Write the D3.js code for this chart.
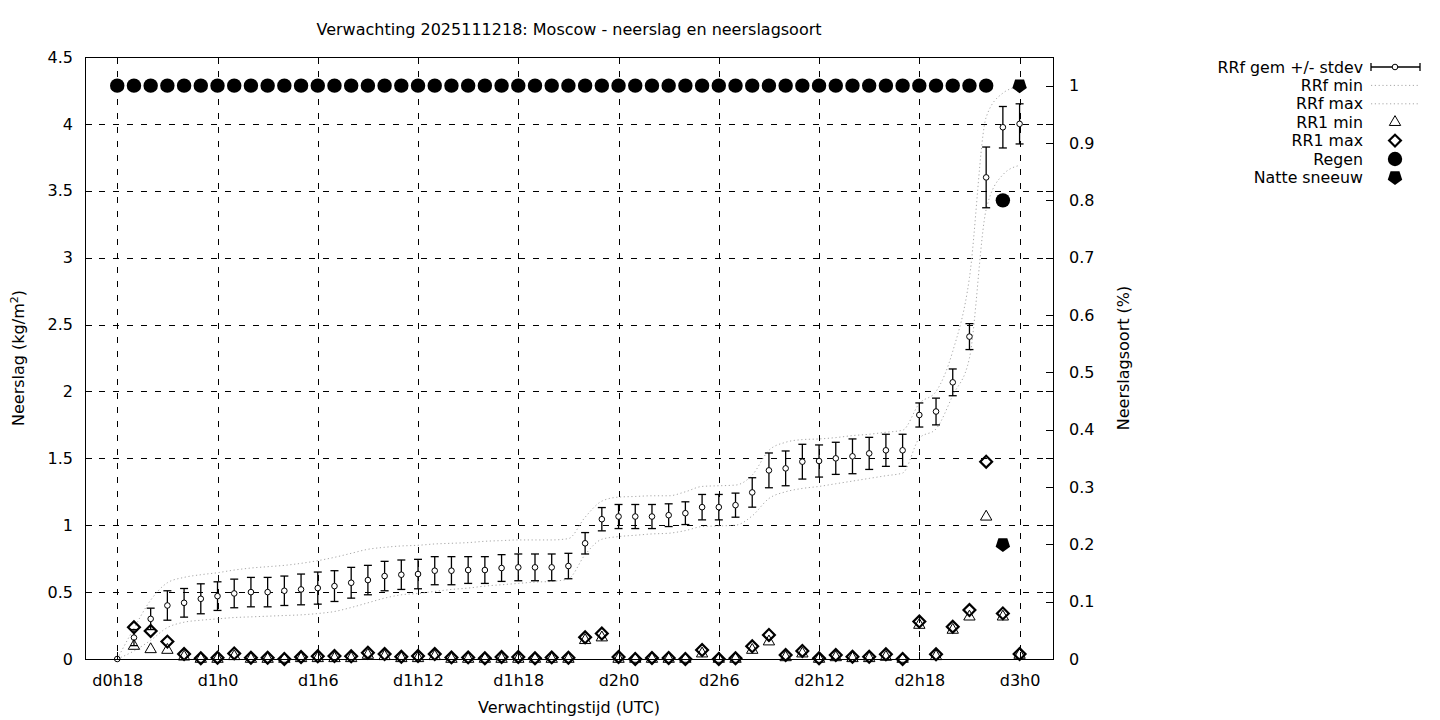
<!DOCTYPE html>
<html><head><meta charset="utf-8">
<script src="https://cdn.jsdelivr.net/npm/d3@7"></script>
<style>
body{margin:0;background:#fff}
svg{display:block}
text{font-family:"DejaVu Sans",sans-serif;font-size:16px;fill:#000}
</style>
</head><body>
<svg id="c" width="1440" height="720"></svg>
<script>
const hours = [18,19,20,21,22,23,24,25,26,27,28,29,30,31,32,33,34,35,36,37,38,39,40,41,42,43,44,45,46,47,48,49,50,51,52,53,54,55,56,57,58,59,60,61,62,63,64,65,66,67,68,69,70,71,72];
const rrfMean = [0.00,0.16,0.30,0.40,0.42,0.45,0.47,0.49,0.50,0.50,
  0.51,0.52,0.53,0.545,0.57,0.59,0.62,0.63,0.635,0.66,
  0.66,0.665,0.665,0.68,0.685,0.685,0.685,0.695,0.865,1.045,
  1.065,1.065,1.065,1.075,1.09,1.135,1.135,1.15,1.245,1.41,
  1.425,1.475,1.48,1.50,1.515,1.537,1.56,1.56,1.824,1.85,
  2.068,2.41,3.60,3.975,4.00];
const rrfStdev = [0,0.06,0.08,0.11,0.107,0.112,0.107,0.107,0.11,0.11,
  0.11,0.115,0.12,0.115,0.115,0.11,0.11,0.11,0.11,0.105,
  0.105,0.10,0.10,0.10,0.10,0.10,0.10,0.095,0.08,0.087,
  0.09,0.09,0.09,0.085,0.085,0.095,0.095,0.09,0.11,0.13,
  0.13,0.13,0.12,0.12,0.13,0.12,0.12,0.12,0.09,0.10,
  0.10,0.097,0.227,0.155,0.15];
const rrfMax = [0,0.23,0.44,0.57,0.61,0.63,0.645,0.665,0.68,0.69,
  0.70,0.715,0.735,0.76,0.79,0.82,0.835,0.845,0.85,0.86,
  0.865,0.87,0.88,0.885,0.89,0.89,0.89,0.90,1.06,1.18,
  1.21,1.215,1.22,1.22,1.25,1.29,1.295,1.30,1.375,1.56,
  1.62,1.64,1.645,1.655,1.67,1.68,1.695,1.71,1.91,2.0,
  2.3,2.85,4.05,4.23,4.28];
const rrfMin = [0,0.06,0.14,0.235,0.275,0.29,0.30,0.31,0.315,0.32,
  0.325,0.33,0.34,0.355,0.385,0.42,0.455,0.48,0.49,0.505,
  0.52,0.53,0.545,0.555,0.565,0.575,0.58,0.60,0.78,0.895,
  0.915,0.925,0.935,0.94,0.96,0.99,0.995,1.00,1.07,1.20,
  1.25,1.275,1.29,1.31,1.33,1.35,1.37,1.39,1.65,1.72,
  1.97,2.25,3.36,3.62,3.69];
const rr1Max = [null,0.237,0.21,0.13,0.037,0.005,0.01,0.042,0.01,0.01,
  0.0,0.015,0.02,0.022,0.02,0.047,0.037,0.017,0.022,0.037,
  0.012,0.012,0.005,0.015,0.015,0.005,0.012,0.01,0.162,0.19,
  0.015,0.0,0.008,0.008,0.0,0.067,0.0,0.005,0.095,0.18,
  0.03,0.06,0.005,0.03,0.017,0.017,0.035,0.0,0.28,0.035,
  0.241,0.366,1.475,0.341,0.037];
const rr1Min = [null,0.097,0.072,0.067,0.017,0.0,0.0,0.02,0.0,0.0,
  0.0,0.005,0.005,0.005,0.005,0.03,0.02,0.005,0.005,0.02,
  0.0,0.0,0.0,0.0,0.0,0.0,0.0,0.0,0.14,0.16,
  0.0,0.0,0.0,0.0,0.0,0.04,0.0,0.0,0.067,0.13,
  0.012,0.04,0.0,0.012,0.005,0.005,0.015,0.0,0.254,0.02,
  0.217,0.316,1.063,0.316,0.03];
const regen = [1,1,1,1,1,1,1,1,1,1,
  1,1,1,1,1,1,1,1,1,1,
  1,1,1,1,1,1,1,1,1,1,
  1,1,1,1,1,1,1,1,1,1,
  1,1,1,1,1,1,1,1,1,1,
  1,1,1,0.8,null];
const natteSneeuw = [null,null,null,null,null,null,null,null,null,null,
  null,null,null,null,null,null,null,null,null,null,
  null,null,null,null,null,null,null,null,null,null,
  null,null,null,null,null,null,null,null,null,null,
  null,null,null,null,null,null,null,null,null,null,
  null,null,null,0.2,1.0];
const xTickValues = [18,24,30,36,42,48,54,60,66,72];
const xTickLabels = ["d0h18","d1h0","d1h6","d1h12","d1h18","d2h0","d2h6","d2h12","d2h18","d3h0"];
const yTicks = [0,0.5,1,1.5,2,2.5,3,3.5,4,4.5];
const y2Ticks = [0,0.1,0.2,0.3,0.4,0.5,0.6,0.7,0.8,0.9,1];
const legendLabels = ["RRf gem +/- stdev","RRf min","RRf max","RR1 min","RR1 max","Regen","Natte sneeuw"];

const L=85,R=1053,T=57,B=659;
const svg = d3.select("#c");
const x = d3.scaleLinear().domain([16.07,74]).range([L,R]);
const y = d3.scaleLinear().domain([0,4.5]).range([B,T]);
const y2 = d3.scaleLinear().domain([0,1.05]).range([B,T]);

// grid
const grid = svg.append("g").attr("stroke","#000").attr("stroke-width",1).attr("stroke-dasharray","6,8").attr("shape-rendering","crispEdges");
grid.selectAll("line.v").data(xTickValues).join("line").attr("class","v")
  .attr("x1",d=>Math.round(x(d))+0.5).attr("x2",d=>Math.round(x(d))+0.5).attr("y1",T).attr("y2",B);
grid.selectAll("line.h").data(yTicks.filter(d=>d>0&&d<4.5)).join("line").attr("class","h")
  .attr("x1",L).attr("x2",R).attr("y1",d=>Math.round(y(d))+0.5).attr("y2",d=>Math.round(y(d))+0.5);

const pts = hours.map((h,i)=>({h,i}));

// dotted min/max lines
const lineOf = arr => d3.line().defined(d=>arr[d.i]!=null).x(d=>x(d.h)).y(d=>y(arr[d.i])).curve(d3.curveMonotoneX);
[rrfMin, rrfMax].forEach(arr=>{
  svg.append("path").datum(pts).attr("d",lineOf(arr)).attr("fill","none")
    .attr("stroke","#a8a8a8").attr("stroke-width",1).attr("stroke-dasharray","1.2,2.6");
});

// error bars
const eb = svg.append("g").attr("stroke","#000").attr("stroke-width",1.3);
pts.filter(d=>rrfStdev[d.i]>0).forEach(d=>{
  const cx=x(d.h), y1=y(rrfMean[d.i]-rrfStdev[d.i]), y2v=y(rrfMean[d.i]+rrfStdev[d.i]);
  eb.append("line").attr("x1",cx).attr("x2",cx).attr("y1",y1).attr("y2",y2v);
  eb.append("line").attr("x1",cx-4).attr("x2",cx+4).attr("y1",y1).attr("y2",y1);
  eb.append("line").attr("x1",cx-4).attr("x2",cx+4).attr("y1",y2v).attr("y2",y2v);
});
svg.append("g").selectAll("circle").data(pts).join("circle")
  .attr("cx",d=>x(d.h)).attr("cy",d=>y(rrfMean[d.i])).attr("r",2.8)
  .attr("fill","#fff").attr("stroke","#000").attr("stroke-width",1);

// symbols
const triPath = d3.symbol(d3.symbolTriangle, 56)();
const diaPath = d3.symbol(d3.symbolSquare, 70)();
const pentPath = (r=>{const p=[];for(let k=0;k<5;k++){const a=Math.PI/2+k*2*Math.PI/5;p.push([r*Math.cos(a),r*Math.sin(a)]);}return "M"+p.map(q=>q.join(",")).join("L")+"Z";})(7.6);

svg.append("g").selectAll("path").data(pts.filter(d=>rr1Min[d.i]!=null)).join("path")
  .attr("d",triPath).attr("transform",d=>`translate(${x(d.h)},${y(rr1Min[d.i])})`)
  .attr("fill","none").attr("stroke","#000").attr("stroke-width",1);
svg.append("g").selectAll("path").data(pts.filter(d=>rr1Max[d.i]!=null)).join("path")
  .attr("d",diaPath).attr("transform",d=>`translate(${x(d.h)},${y(rr1Max[d.i])}) rotate(45)`)
  .attr("fill","none").attr("stroke","#000").attr("stroke-width",2.2);
svg.append("g").selectAll("circle").data(pts.filter(d=>regen[d.i]!=null)).join("circle")
  .attr("cx",d=>x(d.h)).attr("cy",d=>y2(regen[d.i])).attr("r",7.2).attr("fill","#000");
svg.append("g").selectAll("path").data(pts.filter(d=>natteSneeuw[d.i]!=null)).join("path")
  .attr("d",pentPath).attr("transform",d=>`translate(${x(d.h)},${y2(natteSneeuw[d.i])})`).attr("fill","#000");

// border
svg.append("rect").attr("x",L+0.5).attr("y",T+0.5).attr("width",R-L).attr("height",B-T)
  .attr("fill","none").attr("stroke","#000").attr("stroke-width",1).attr("shape-rendering","crispEdges");

// axes
function style(g){ g.select(".domain").remove(); g.selectAll("text").attr("font-size",null).attr("font-family",null);
  g.attr("font-size",null).attr("font-family",null); g.selectAll("line").attr("shape-rendering","crispEdges"); }
svg.append("g").attr("transform",`translate(0,${B})`)
  .call(d3.axisBottom(x).tickValues(xTickValues).tickFormat((d,i)=>xTickLabels[i]).tickSizeInner(-7).tickSizeOuter(0).tickPadding(16)).call(style);
svg.append("g").attr("transform",`translate(0,${T})`)
  .call(d3.axisTop(x).tickValues(xTickValues).tickFormat("").tickSizeInner(-7).tickSizeOuter(0)).call(style);
svg.append("g").attr("transform",`translate(${L},0)`)
  .call(d3.axisLeft(y).tickValues(yTicks).tickFormat(d=>String(d)).tickSizeInner(-7).tickSizeOuter(0).tickPadding(12)).call(style);
svg.append("g").attr("transform",`translate(${R},0)`)
  .call(d3.axisRight(y).tickValues(yTicks).tickFormat("").tickSizeInner(-7).tickSizeOuter(0)).call(style);
svg.append("g").attr("transform",`translate(${R},0)`)
  .call(d3.axisRight(y2).tickValues(y2Ticks).tickFormat(d=>String(d)).tickSizeInner(-7).tickSizeOuter(0).tickPadding(16)).call(style);

// titles
svg.append("text").attr("x",(L+R)/2).attr("y",35).attr("text-anchor","middle")
  .text("Verwachting 2025111218: Moscow - neerslag en neerslagsoort");
svg.append("text").attr("x",(L+R)/2).attr("y",713).attr("text-anchor","middle").text("Verwachtingstijd (UTC)");
const yl = svg.append("text").attr("transform","translate(24,358) rotate(-90)").attr("text-anchor","middle");
yl.append("tspan").text("Neerslag (kg/m");
yl.append("tspan").attr("font-size","11px").attr("dy","-6").text("2");
yl.append("tspan").attr("dy","6").text(")");
svg.append("text").attr("transform","translate(1129,358) rotate(-90)").attr("text-anchor","middle").text("Neerslagsoort (%)");

// legend
const lg = svg.append("g");
const lx0=1371, lx1=1420, lxm=1395, ltx=1363;
legendLabels.forEach((t,i)=>{
  const ly = 67 + i*18.4;
  lg.append("text").attr("x",ltx).attr("y",ly).attr("dy","0.36em").attr("text-anchor","end").style("font-size","15.8px").text(t);
  if(i===0){
    lg.append("line").attr("x1",lx0).attr("x2",lx1).attr("y1",ly).attr("y2",ly).attr("stroke","#000").attr("stroke-width",1.3);
    [lx0,lx1].forEach(xx=>lg.append("line").attr("x1",xx).attr("x2",xx).attr("y1",ly-4).attr("y2",ly+4).attr("stroke","#000").attr("stroke-width",1.3));
    lg.append("circle").attr("cx",lxm).attr("cy",ly).attr("r",2.8).attr("fill","#fff").attr("stroke","#000");
  } else if(i===1||i===2){
    lg.append("line").attr("x1",lx0).attr("x2",lx1).attr("y1",ly).attr("y2",ly).attr("stroke","#a8a8a8").attr("stroke-dasharray","1.2,2.6");
  } else if(i===3){
    lg.append("path").attr("d",triPath).attr("transform",`translate(${lxm},${ly})`).attr("fill","none").attr("stroke","#000");
  } else if(i===4){
    lg.append("path").attr("d",diaPath).attr("transform",`translate(${lxm},${ly}) rotate(45)`).attr("fill","none").attr("stroke","#000").attr("stroke-width",2.2);
  } else if(i===5){
    lg.append("circle").attr("cx",lxm).attr("cy",ly).attr("r",7.2).attr("fill","#000");
  } else {
    lg.append("path").attr("d",pentPath).attr("transform",`translate(${lxm},${ly})`).attr("fill","#000");
  }
});
</script>
</body></html>
